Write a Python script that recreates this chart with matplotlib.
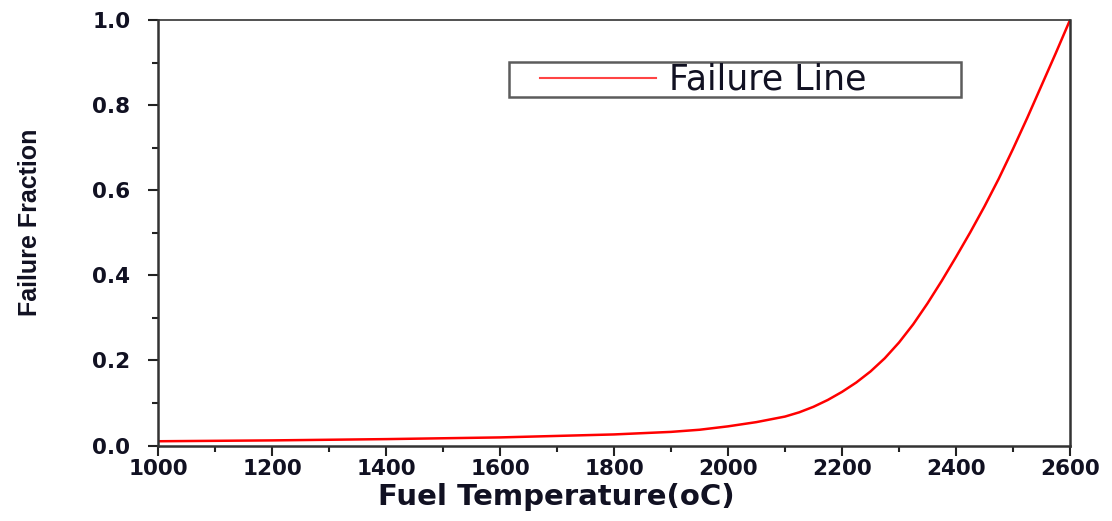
import matplotlib
matplotlib.use('Agg')
import matplotlib.pyplot as plt
from matplotlib.ticker import MultipleLocator

# Values
temperature = [1000, 1200, 1400, 1600, 1800, 1900, 1950, 2000, 2050, 2100, 2125, 2150,
               2175, 2200, 2225, 2250, 2275, 2300, 2325, 2350, 2375, 2400, 2425, 2450,
               2475, 2500, 2525, 2550, 2575, 2600]
failure_fraction = [0.010, 0.012, 0.015, 0.019, 0.026, 0.032, 0.037, 0.045, 0.055, 0.068, 0.078, 0.091,
                    0.107, 0.126, 0.148, 0.174, 0.205, 0.242, 0.285, 0.334, 0.387, 0.443, 0.501, 0.562,
                    0.627, 0.697, 0.770, 0.846, 0.922, 1.0]
x_ticks = [1000, 1200, 1400, 1600, 1800, 2000, 2200, 2400, 2600]
y_ticks = [0.0, 0.2, 0.4, 0.6, 0.8, 1.0]

plt.rcParams['font.family'] = ['DejaVu Sans']

W, H = 1112, 521
fig = plt.figure(figsize=(W / 100, H / 100), dpi=100)
ax = fig.add_axes([158 / W, 1 - 445.5 / H, 912 / W, 425.5 / H])

ax.plot(temperature, failure_fraction, color='#ff0000', lw=1.8, label='Failure Line')

ax.set_xlim(1000, 2600)
ax.set_ylim(0, 1.0)
ax.set_xticks(x_ticks)
ax.set_yticks(y_ticks)
ax.set_yticklabels([f'{v:.1f}' for v in y_ticks])
ax.xaxis.set_minor_locator(MultipleLocator(100))
ax.yaxis.set_minor_locator(MultipleLocator(0.1))
ax.tick_params(which='major', direction='out', length=7, width=1.5, labelsize=15.5,
               colors='#222222', labelcolor='#111122')
ax.tick_params(which='minor', direction='out', length=4, width=1.5, colors='#222222')
ax.tick_params(axis='x', pad=3)
ax.tick_params(axis='y', pad=13)
for lbl in ax.get_xticklabels() + ax.get_yticklabels():
    lbl.set_fontweight('bold')

for side in ['left', 'bottom', 'right']:
    ax.spines[side].set_linewidth(1.8)
    ax.spines[side].set_color('#333333')
ax.spines['top'].set_linewidth(1.2)
ax.spines['top'].set_color('#333333')

ax.set_xlabel('Fuel Temperature(oC)', fontsize=21, fontweight='bold', color='#111122')
ax.xaxis.set_label_coords((556 - 158) / 912, (445.5 - 497) / 425.5)
ax.xaxis.label.set_va('center')
ax.set_ylabel('Failure Fraction', fontsize=18, fontweight='bold',
              family=['Liberation Sans', 'DejaVu Sans'], color='#111122')
ax.yaxis.set_label_coords((30 - 158) / 912, (445.5 - 222) / 425.5)
ax.yaxis.label.set_va('center')

# legend box spans x 509..961, top at y 62 (pixels)
leg = ax.legend(loc='upper left', mode='expand',
                bbox_to_anchor=((509 - 158) / 912, 0.5, (961 - 509) / 912, (445.5 - 62) / 425.5 - 0.5),
                fontsize=25, frameon=True, fancybox=False, handlelength=4.2,
                borderpad=0.02, handletextpad=0.38, borderaxespad=0)
leg.get_frame().set_edgecolor('#333333')
leg.get_frame().set_linewidth(1.8)
for t in leg.get_texts():
    t.set_color('#111122')
hline = leg.get_lines()[0]
hline.set_color('#ff4444')
hline.set_linewidth(1.5)
xd = hline.get_xdata()
yd = hline.get_ydata()
hline.set_data([xd[0] + 22, xd[-1]], [yd[0], yd[-1]])

fig.savefig('out.png', dpi=100)
